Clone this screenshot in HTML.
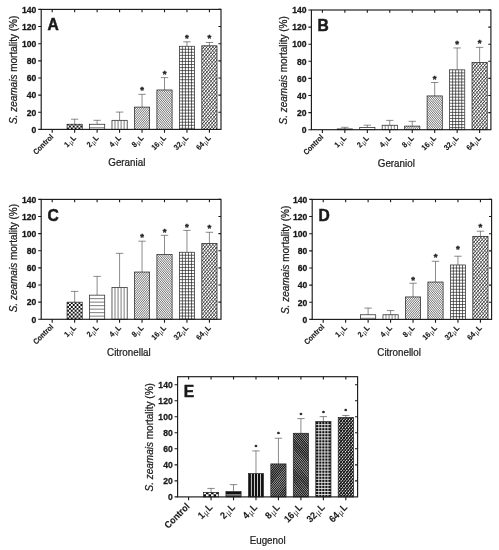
<!DOCTYPE html>
<html><head><meta charset="utf-8"><title>Figure</title>
<style>html,body{margin:0;padding:0;background:#fff}svg{display:block}</style></head>
<body><svg width="499" height="550" viewBox="0 0 499 550">
<rect width="499" height="550" fill="#fff"/>
<g>
<path d="M74.66 124.26V119.20M70.96 119.20H78.36" stroke="#444" stroke-width="0.62" fill="none"/>
<svg x="67.06" y="124.26" width="15.20" height="5.14" overflow="hidden"><rect width="15.20" height="5.14" fill="#fff"/><path d="M0.00 3.24h1.90v1.90h-1.90zM3.80 3.24h1.90v1.90h-1.90zM7.60 3.24h1.90v1.90h-1.90zM11.40 3.24h1.90v1.90h-1.90zM1.90 1.34h1.90v1.90h-1.90zM5.70 1.34h1.90v1.90h-1.90zM9.50 1.34h1.90v1.90h-1.90zM13.30 1.34h1.90v1.90h-1.90zM0.00 -0.56h1.90v1.90h-1.90zM3.80 -0.56h1.90v1.90h-1.90zM7.60 -0.56h1.90v1.90h-1.90zM11.40 -0.56h1.90v1.90h-1.90zM1.90 -2.46h1.90v1.90h-1.90zM5.70 -2.46h1.90v1.90h-1.90zM9.50 -2.46h1.90v1.90h-1.90zM13.30 -2.46h1.90v1.90h-1.90z" fill="#111"/></svg>
<rect x="67.06" y="124.26" width="15.2" height="5.14" fill="none" stroke="#222" stroke-width="0.72"/>
<path d="M97.12 124.26V120.31M93.42 120.31H100.82" stroke="#444" stroke-width="0.62" fill="none"/>
<svg x="89.52" y="124.26" width="15.20" height="5.14" overflow="hidden"><rect width="15.20" height="5.14" fill="#fff"/><path d="M0 3.50H15.20" stroke="#444" stroke-width="0.7" fill="none"/></svg>
<rect x="89.52" y="124.26" width="15.2" height="5.14" fill="none" stroke="#222" stroke-width="0.72"/>
<path d="M119.58 120.31V112.09M115.88 112.09H123.28" stroke="#444" stroke-width="0.62" fill="none"/>
<svg x="111.98" y="120.31" width="15.20" height="9.09" overflow="hidden"><rect width="15.20" height="9.09" fill="#fff"/><path d="M3.04 0V9.09M6.08 0V9.09M9.12 0V9.09M12.16 0V9.09" stroke="#444" stroke-width="0.7" fill="none"/></svg>
<rect x="111.98" y="120.31" width="15.2" height="9.09" fill="none" stroke="#222" stroke-width="0.72"/>
<path d="M142.04 107.11V94.34M138.34 94.34H145.74" stroke="#444" stroke-width="0.62" fill="none"/>
<svg x="134.44" y="107.11" width="15.20" height="22.29" overflow="hidden"><rect width="15.20" height="22.29" fill="#fff"/><path d="M-27.91 30.74L25.43 -32.82M-26.67 31.78L26.67 -31.78M-25.43 32.82L27.91 -30.74M-24.18 33.86L29.15 -29.70M-22.94 34.90L30.39 -28.66M-21.70 35.95L31.63 -27.61M-20.46 36.99L32.87 -26.57M-19.22 38.03L34.11 -25.53M-17.98 39.07L35.35 -24.49M-16.74 40.11L36.59 -23.45M-15.50 41.15L37.84 -22.41M-14.26 42.19L39.08 -21.37M-13.02 43.23L40.32 -20.33M-11.77 44.28L41.56 -19.28M-10.53 45.32L42.80 -18.24M-9.29 46.36L44.04 -17.20M-8.05 47.40L45.28 -16.16M-6.81 48.44L46.52 -15.12M-5.57 49.48L47.76 -14.08" stroke="#111" stroke-width="0.6" fill="none"/></svg>
<rect x="134.44" y="107.11" width="15.2" height="22.29" fill="none" stroke="#222" stroke-width="0.72"/>
<text x="142.04" y="92.76" font-size="9.6" font-weight="bold" text-anchor="middle" font-family="Liberation Sans, Arial, sans-serif" fill="#222" stroke="#222" stroke-width="0.4">*</text>
<path d="M164.50 89.97V77.63M160.80 77.63H168.20" stroke="#444" stroke-width="0.62" fill="none"/>
<svg x="156.90" y="89.97" width="15.20" height="39.43" overflow="hidden"><rect width="15.20" height="39.43" fill="#fff"/><path d="M-26.52 -54.28L48.85 35.54M-27.76 -53.24L47.61 36.58M-29.00 -52.20L46.37 37.62M-30.24 -51.16L45.13 38.66M-31.48 -50.12L43.89 39.71M-32.72 -49.08L42.65 40.75M-33.96 -48.04L41.41 41.79M-35.20 -46.99L40.17 42.83M-36.44 -45.95L38.93 43.87M-37.69 -44.91L37.69 44.91M-38.93 -43.87L36.44 45.95M-40.17 -42.83L35.20 46.99M-41.41 -41.79L33.96 48.04M-42.65 -40.75L32.72 49.08M-43.89 -39.71L31.48 50.12M-45.13 -38.66L30.24 51.16M-46.37 -37.62L29.00 52.20M-47.61 -36.58L27.76 53.24M-48.85 -35.54L26.52 54.28M-50.10 -34.50L25.28 55.33M-51.34 -33.46L24.03 56.37M-52.58 -32.42L22.79 57.41M-53.82 -31.37L21.55 58.45M-55.06 -30.33L20.31 59.49M-56.30 -29.29L19.07 60.53M-57.54 -28.25L17.83 61.57" stroke="#111" stroke-width="0.6" fill="none"/></svg>
<rect x="156.90" y="89.97" width="15.2" height="39.43" fill="none" stroke="#222" stroke-width="0.72"/>
<text x="164.50" y="76.54" font-size="9.6" font-weight="bold" text-anchor="middle" font-family="Liberation Sans, Arial, sans-serif" fill="#222" stroke="#222" stroke-width="0.4">*</text>
<path d="M186.96 46.26V41.80M183.26 41.80H190.66" stroke="#444" stroke-width="0.62" fill="none"/>
<svg x="179.36" y="46.26" width="15.20" height="83.14" overflow="hidden"><rect width="15.20" height="83.14" fill="#fff"/><path d="M3.04 0V83.14M6.08 0V83.14M9.12 0V83.14M12.16 0V83.14M0 3.04H15.20M0 6.08H15.20M0 9.12H15.20M0 12.16H15.20M0 15.20H15.20M0 18.24H15.20M0 21.28H15.20M0 24.32H15.20M0 27.36H15.20M0 30.40H15.20M0 33.44H15.20M0 36.48H15.20M0 39.52H15.20M0 42.56H15.20M0 45.60H15.20M0 48.64H15.20M0 51.68H15.20M0 54.72H15.20M0 57.76H15.20M0 60.80H15.20M0 63.84H15.20M0 66.88H15.20M0 69.92H15.20M0 72.96H15.20M0 76.00H15.20M0 79.04H15.20M0 82.08H15.20" stroke="#222" stroke-width="0.68" fill="none"/></svg>
<rect x="179.36" y="46.26" width="15.2" height="83.14" fill="none" stroke="#222" stroke-width="0.72"/>
<text x="186.96" y="40.72" font-size="9.6" font-weight="bold" text-anchor="middle" font-family="Liberation Sans, Arial, sans-serif" fill="#222" stroke="#222" stroke-width="0.4">*</text>
<path d="M209.42 45.83V42.49M205.72 42.49H213.12" stroke="#444" stroke-width="0.62" fill="none"/>
<svg x="201.82" y="45.83" width="15.20" height="83.57" overflow="hidden"><rect width="15.20" height="83.57" fill="#fff"/><path d="M-67.82 77.25L64.30 -80.21M-66.06 78.73L66.06 -78.73M-64.30 80.21L67.82 -77.25M-62.54 81.68L69.58 -75.77M-60.77 83.16L71.35 -74.29M-59.01 84.64L73.11 -72.81M-57.25 86.12L74.87 -71.34M-55.49 87.60L76.63 -69.86M-53.73 89.08L78.39 -68.38M-51.96 90.55L80.16 -66.90M-50.20 92.03L81.92 -65.42M-48.44 93.51L83.68 -63.94M-46.68 94.99L85.44 -62.46M-44.92 96.47L87.20 -60.99M-43.16 97.95L88.96 -59.51M-41.39 99.43L90.73 -58.03M-39.63 100.90L92.49 -56.55M-37.87 102.38L94.25 -55.07M-36.11 103.86L96.01 -53.59M-34.35 105.34L97.77 -52.12M-32.58 106.82L99.54 -50.64M-30.82 108.30L101.30 -49.16M-29.06 109.77L103.06 -47.68M-27.30 111.25L104.82 -46.20M-25.54 112.73L106.58 -44.72M-23.77 114.21L108.35 -43.25M-22.01 115.69L110.11 -41.77M-20.25 117.17L111.87 -40.29M-18.49 118.64L113.63 -38.81M-16.73 120.12L115.39 -37.33M-14.97 121.60L117.16 -35.85" stroke="#222" stroke-width="0.85" fill="none"/><path d="M-54.11 -88.75L78.01 68.70M-56.10 -87.08L76.02 70.37M-58.09 -85.41L74.03 72.04M-60.09 -83.74L72.04 73.71M-62.08 -82.07L70.04 75.38M-64.07 -80.40L68.05 77.06M-66.06 -78.73L66.06 78.73M-68.05 -77.06L64.07 80.40M-70.04 -75.38L62.08 82.07M-72.04 -73.71L60.09 83.74M-74.03 -72.04L58.09 85.41M-76.02 -70.37L56.10 87.08M-78.01 -68.70L54.11 88.75M-80.00 -67.03L52.12 90.43M-81.99 -65.36L50.13 92.10M-83.99 -63.69L48.13 93.77M-85.98 -62.02L46.14 95.44M-87.97 -60.34L44.15 97.11M-89.96 -58.67L42.16 98.78M-91.95 -57.00L40.17 100.45M-93.94 -55.33L38.18 102.12M-95.94 -53.66L36.18 103.80M-97.93 -51.99L34.19 105.47M-99.92 -50.32L32.20 107.14M-101.91 -48.65L30.21 108.81M-103.90 -46.97L28.22 110.48M-105.89 -45.30L26.23 112.15M-107.89 -43.63L24.23 113.82" stroke="#222" stroke-width="0.6" fill="none"/></svg>
<rect x="201.82" y="45.83" width="15.2" height="83.57" fill="none" stroke="#222" stroke-width="0.72"/>
<text x="209.42" y="41.40" font-size="9.6" font-weight="bold" text-anchor="middle" font-family="Liberation Sans, Arial, sans-serif" fill="#222" stroke="#222" stroke-width="0.4">*</text>
<rect x="41.2" y="9.4" width="179.80" height="120.00" fill="none" stroke="#1a1a1a" stroke-width="1.15"/>
<path d="M52.20 9.4v2.8M52.20 129.4v3.4M74.66 9.4v2.8M74.66 129.4v3.4M97.12 9.4v2.8M97.12 129.4v3.4M119.58 9.4v2.8M119.58 129.4v3.4M142.04 9.4v2.8M142.04 129.4v3.4M164.50 9.4v2.8M164.50 129.4v3.4M186.96 9.4v2.8M186.96 129.4v3.4M209.42 9.4v2.8M209.42 129.4v3.4M38.2 129.40h3M38.2 112.26h3M221 112.26h-2.6M38.2 95.11h3M221 95.11h-2.6M38.2 77.97h3M221 77.97h-2.6M38.2 60.83h3M221 60.83h-2.6M38.2 43.69h3M221 43.69h-2.6M38.2 26.54h3M221 26.54h-2.6M38.2 9.40h3M221 9.40h-2.6" stroke="#1a1a1a" stroke-width="1.1" fill="none"/>
<text transform="translate(36.30 132.65) scale(0.905 1)" font-size="9.5" font-weight="bold" text-anchor="end" font-family="Liberation Sans, Arial, sans-serif" fill="#1a1a1a" stroke="#1a1a1a" stroke-width="0.3">0</text>
<text transform="translate(36.30 115.51) scale(0.905 1)" font-size="9.5" font-weight="bold" text-anchor="end" font-family="Liberation Sans, Arial, sans-serif" fill="#1a1a1a" stroke="#1a1a1a" stroke-width="0.3">20</text>
<text transform="translate(36.30 98.36) scale(0.905 1)" font-size="9.5" font-weight="bold" text-anchor="end" font-family="Liberation Sans, Arial, sans-serif" fill="#1a1a1a" stroke="#1a1a1a" stroke-width="0.3">40</text>
<text transform="translate(36.30 81.22) scale(0.905 1)" font-size="9.5" font-weight="bold" text-anchor="end" font-family="Liberation Sans, Arial, sans-serif" fill="#1a1a1a" stroke="#1a1a1a" stroke-width="0.3">60</text>
<text transform="translate(36.30 64.08) scale(0.905 1)" font-size="9.5" font-weight="bold" text-anchor="end" font-family="Liberation Sans, Arial, sans-serif" fill="#1a1a1a" stroke="#1a1a1a" stroke-width="0.3">80</text>
<text transform="translate(36.30 46.94) scale(0.905 1)" font-size="9.5" font-weight="bold" text-anchor="end" font-family="Liberation Sans, Arial, sans-serif" fill="#1a1a1a" stroke="#1a1a1a" stroke-width="0.3">100</text>
<text transform="translate(36.30 29.79) scale(0.905 1)" font-size="9.5" font-weight="bold" text-anchor="end" font-family="Liberation Sans, Arial, sans-serif" fill="#1a1a1a" stroke="#1a1a1a" stroke-width="0.3">120</text>
<text transform="translate(36.30 12.65) scale(0.905 1)" font-size="9.5" font-weight="bold" text-anchor="end" font-family="Liberation Sans, Arial, sans-serif" fill="#1a1a1a" stroke="#1a1a1a" stroke-width="0.3">140</text>
<text transform="translate(53.80 137.40) rotate(-45) scale(0.92 1)" font-size="7.6" font-weight="bold" text-anchor="end" font-family="Liberation Sans, Arial, sans-serif" fill="#1a1a1a" stroke="#1a1a1a" stroke-width="0.12">Control</text>
<text transform="translate(76.66 138.40) rotate(-45) scale(0.92 1)" font-size="7.8" font-weight="bold" text-anchor="end" font-family="Liberation Sans, Arial, sans-serif" fill="#1a1a1a" stroke="#1a1a1a" stroke-width="0.12">1<tspan font-size="6.60" font-weight="normal" stroke="none" dx="0.7" dy="1.2">µ</tspan><tspan dx="0.7" dy="-1.2">L</tspan></text>
<text transform="translate(99.12 138.40) rotate(-45) scale(0.92 1)" font-size="7.8" font-weight="bold" text-anchor="end" font-family="Liberation Sans, Arial, sans-serif" fill="#1a1a1a" stroke="#1a1a1a" stroke-width="0.12">2<tspan font-size="6.60" font-weight="normal" stroke="none" dx="0.7" dy="1.2">µ</tspan><tspan dx="0.7" dy="-1.2">L</tspan></text>
<text transform="translate(121.58 138.40) rotate(-45) scale(0.92 1)" font-size="7.8" font-weight="bold" text-anchor="end" font-family="Liberation Sans, Arial, sans-serif" fill="#1a1a1a" stroke="#1a1a1a" stroke-width="0.12">4<tspan font-size="6.60" font-weight="normal" stroke="none" dx="0.7" dy="1.2">µ</tspan><tspan dx="0.7" dy="-1.2">L</tspan></text>
<text transform="translate(144.04 138.40) rotate(-45) scale(0.92 1)" font-size="7.8" font-weight="bold" text-anchor="end" font-family="Liberation Sans, Arial, sans-serif" fill="#1a1a1a" stroke="#1a1a1a" stroke-width="0.12">8<tspan font-size="6.60" font-weight="normal" stroke="none" dx="0.7" dy="1.2">µ</tspan><tspan dx="0.7" dy="-1.2">L</tspan></text>
<text transform="translate(166.50 138.40) rotate(-45) scale(0.92 1)" font-size="7.8" font-weight="bold" text-anchor="end" font-family="Liberation Sans, Arial, sans-serif" fill="#1a1a1a" stroke="#1a1a1a" stroke-width="0.12">16<tspan font-size="6.60" font-weight="normal" stroke="none" dx="0.7" dy="1.2">µ</tspan><tspan dx="0.7" dy="-1.2">L</tspan></text>
<text transform="translate(188.96 138.40) rotate(-45) scale(0.92 1)" font-size="7.8" font-weight="bold" text-anchor="end" font-family="Liberation Sans, Arial, sans-serif" fill="#1a1a1a" stroke="#1a1a1a" stroke-width="0.12">32<tspan font-size="6.60" font-weight="normal" stroke="none" dx="0.7" dy="1.2">µ</tspan><tspan dx="0.7" dy="-1.2">L</tspan></text>
<text transform="translate(211.42 138.40) rotate(-45) scale(0.92 1)" font-size="7.8" font-weight="bold" text-anchor="end" font-family="Liberation Sans, Arial, sans-serif" fill="#1a1a1a" stroke="#1a1a1a" stroke-width="0.12">64<tspan font-size="6.60" font-weight="normal" stroke="none" dx="0.7" dy="1.2">µ</tspan><tspan dx="0.7" dy="-1.2">L</tspan></text>
<text transform="translate(126.80 166.30) scale(0.9 1)" font-size="10.9" text-anchor="middle" font-family="Liberation Sans, Arial, sans-serif" fill="#222" stroke="#222" stroke-width="0.25">Geranial</text>
<text transform="translate(17.00 69.90) rotate(-90)" font-size="10" text-anchor="middle" font-family="Liberation Sans, Arial, sans-serif" fill="#222" stroke="#222" stroke-width="0.25"><tspan font-style="italic">S. zeamais</tspan> mortality (%)</text>
<text x="47.40" y="29.90" font-size="15.6" font-weight="bold" font-family="Liberation Sans, Arial, sans-serif" fill="#1a1a1a" stroke="#1a1a1a" stroke-width="0.5">A</text>
</g>
<g>
<path d="M344.86 128.93V127.31M341.16 127.31H348.56" stroke="#444" stroke-width="0.62" fill="none"/>
<svg x="337.26" y="128.93" width="15.20" height="0.77" overflow="hidden"><rect width="15.20" height="0.77" fill="#fff"/><path d="M0.00 -1.13h1.90v1.90h-1.90zM3.80 -1.13h1.90v1.90h-1.90zM7.60 -1.13h1.90v1.90h-1.90zM11.40 -1.13h1.90v1.90h-1.90zM1.90 -3.03h1.90v1.90h-1.90zM5.70 -3.03h1.90v1.90h-1.90zM9.50 -3.03h1.90v1.90h-1.90zM13.30 -3.03h1.90v1.90h-1.90z" fill="#111"/></svg>
<rect x="337.26" y="128.93" width="15.2" height="0.77" fill="none" stroke="#222" stroke-width="0.72"/>
<path d="M367.32 127.48V125.17M363.62 125.17H371.02" stroke="#444" stroke-width="0.62" fill="none"/>
<svg x="359.72" y="127.48" width="15.20" height="2.22" overflow="hidden"><rect width="15.20" height="2.22" fill="#fff"/><path d="" stroke="#444" stroke-width="0.7" fill="none"/></svg>
<rect x="359.72" y="127.48" width="15.2" height="2.22" fill="none" stroke="#222" stroke-width="0.72"/>
<path d="M389.78 125.25V120.38M386.08 120.38H393.48" stroke="#444" stroke-width="0.62" fill="none"/>
<svg x="382.18" y="125.25" width="15.20" height="4.45" overflow="hidden"><rect width="15.20" height="4.45" fill="#fff"/><path d="M3.04 0V4.45M6.08 0V4.45M9.12 0V4.45M12.16 0V4.45" stroke="#444" stroke-width="0.7" fill="none"/></svg>
<rect x="382.18" y="125.25" width="15.2" height="4.45" fill="none" stroke="#222" stroke-width="0.72"/>
<path d="M412.24 126.11V121.32M408.54 121.32H415.94" stroke="#444" stroke-width="0.62" fill="none"/>
<svg x="404.64" y="126.11" width="15.20" height="3.59" overflow="hidden"><rect width="15.20" height="3.59" fill="#fff"/><path d="M-15.89 16.42L13.41 -18.50M-14.65 17.46L14.65 -17.46M-13.41 18.50L15.89 -16.42M-12.17 19.54L17.13 -15.38M-10.93 20.58L18.37 -14.33M-9.69 21.62L19.61 -13.29M-8.44 22.67L20.85 -12.25M-7.20 23.71L22.10 -11.21M-5.96 24.75L23.34 -10.17M-4.72 25.79L24.58 -9.13M-3.48 26.83L25.82 -8.09" stroke="#111" stroke-width="0.6" fill="none"/></svg>
<rect x="404.64" y="126.11" width="15.2" height="3.59" fill="none" stroke="#222" stroke-width="0.72"/>
<path d="M434.70 95.93V82.50M431.00 82.50H438.40" stroke="#444" stroke-width="0.62" fill="none"/>
<svg x="427.10" y="95.93" width="15.20" height="33.77" overflow="hidden"><rect width="15.20" height="33.77" fill="#fff"/><path d="M-22.88 -49.95L45.22 31.21M-24.12 -48.91L43.98 32.25M-25.36 -47.87L42.74 33.29M-26.60 -46.83L41.50 34.33M-27.85 -45.79L40.26 35.37M-29.09 -44.74L39.01 36.41M-30.33 -43.70L37.77 37.46M-31.57 -42.66L36.53 38.50M-32.81 -41.62L35.29 39.54M-34.05 -40.58L34.05 40.58M-35.29 -39.54L32.81 41.62M-36.53 -38.50L31.57 42.66M-37.77 -37.46L30.33 43.70M-39.01 -36.41L29.09 44.74M-40.26 -35.37L27.85 45.79M-41.50 -34.33L26.60 46.83M-42.74 -33.29L25.36 47.87M-43.98 -32.25L24.12 48.91M-45.22 -31.21L22.88 49.95M-46.46 -30.17L21.64 50.99M-47.70 -29.12L20.40 52.03M-48.94 -28.08L19.16 53.08M-50.18 -27.04L17.92 54.12M-51.42 -26.00L16.68 55.16" stroke="#111" stroke-width="0.6" fill="none"/></svg>
<rect x="427.10" y="95.93" width="15.2" height="33.77" fill="none" stroke="#222" stroke-width="0.72"/>
<text x="434.70" y="82.12" font-size="9.6" font-weight="bold" text-anchor="middle" font-family="Liberation Sans, Arial, sans-serif" fill="#222" stroke="#222" stroke-width="0.4">*</text>
<path d="M457.16 69.85V47.96M453.46 47.96H460.86" stroke="#444" stroke-width="0.62" fill="none"/>
<svg x="449.56" y="69.85" width="15.20" height="59.85" overflow="hidden"><rect width="15.20" height="59.85" fill="#fff"/><path d="M3.04 0V59.85M6.08 0V59.85M9.12 0V59.85M12.16 0V59.85M0 3.04H15.20M0 6.08H15.20M0 9.12H15.20M0 12.16H15.20M0 15.20H15.20M0 18.24H15.20M0 21.28H15.20M0 24.32H15.20M0 27.36H15.20M0 30.40H15.20M0 33.44H15.20M0 36.48H15.20M0 39.52H15.20M0 42.56H15.20M0 45.60H15.20M0 48.64H15.20M0 51.68H15.20M0 54.72H15.20M0 57.76H15.20M0 60.80H15.20" stroke="#222" stroke-width="0.68" fill="none"/></svg>
<rect x="449.56" y="69.85" width="15.2" height="59.85" fill="none" stroke="#222" stroke-width="0.72"/>
<text x="457.16" y="46.78" font-size="9.6" font-weight="bold" text-anchor="middle" font-family="Liberation Sans, Arial, sans-serif" fill="#222" stroke="#222" stroke-width="0.4">*</text>
<path d="M479.62 62.50V47.36M475.92 47.36H483.32" stroke="#444" stroke-width="0.62" fill="none"/>
<svg x="472.02" y="62.50" width="15.20" height="67.20" overflow="hidden"><rect width="15.20" height="67.20" fill="#fff"/><path d="M-57.30 64.71L53.78 -67.67M-55.54 66.19L55.54 -66.19M-53.78 67.67L57.30 -64.71M-52.01 69.15L59.06 -63.23M-50.25 70.62L60.82 -61.75M-48.49 72.10L62.59 -60.27M-46.73 73.58L64.35 -58.80M-44.97 75.06L66.11 -57.32M-43.21 76.54L67.87 -55.84M-41.44 78.02L69.63 -54.36M-39.68 79.49L71.40 -52.88M-37.92 80.97L73.16 -51.40M-36.16 82.45L74.92 -49.93M-34.40 83.93L76.68 -48.45M-32.63 85.41L78.44 -46.97M-30.87 86.89L80.21 -45.49M-29.11 88.36L81.97 -44.01M-27.35 89.84L83.73 -42.53M-25.59 91.32L85.49 -41.06M-23.82 92.80L87.25 -39.58M-22.06 94.28L89.01 -38.10M-20.30 95.76L90.78 -36.62M-18.54 97.24L92.54 -35.14M-16.78 98.71L94.30 -33.66M-15.02 100.19L96.06 -32.19M-13.25 101.67L97.82 -30.71" stroke="#222" stroke-width="0.85" fill="none"/><path d="M-43.59 -76.22L67.49 56.16M-45.58 -74.54L65.50 57.83M-47.57 -72.87L63.51 59.50M-49.56 -71.20L61.51 61.17M-51.56 -69.53L59.52 62.85M-53.55 -67.86L57.53 64.52M-55.54 -66.19L55.54 66.19M-57.53 -64.52L53.55 67.86M-59.52 -62.85L51.56 69.53M-61.51 -61.17L49.56 71.20M-63.51 -59.50L47.57 72.87M-65.50 -57.83L45.58 74.54M-67.49 -56.16L43.59 76.22M-69.48 -54.49L41.60 77.89M-71.47 -52.82L39.61 79.56M-73.46 -51.15L37.61 81.23M-75.46 -49.48L35.62 82.90M-77.45 -47.80L33.63 84.57M-79.44 -46.13L31.64 86.24M-81.43 -44.46L29.65 87.91M-83.42 -42.79L27.65 89.59M-85.41 -41.12L25.66 91.26M-87.41 -39.45L23.67 92.93M-89.40 -37.78L21.68 94.60" stroke="#222" stroke-width="0.6" fill="none"/></svg>
<rect x="472.02" y="62.50" width="15.2" height="67.20" fill="none" stroke="#222" stroke-width="0.72"/>
<text x="479.62" y="46.38" font-size="9.6" font-weight="bold" text-anchor="middle" font-family="Liberation Sans, Arial, sans-serif" fill="#222" stroke="#222" stroke-width="0.4">*</text>
<rect x="311.4" y="10.0" width="179.50" height="119.70" fill="none" stroke="#1a1a1a" stroke-width="1.15"/>
<path d="M322.40 10.0v2.8M322.40 129.7v3.4M344.86 10.0v2.8M344.86 129.7v3.4M367.32 10.0v2.8M367.32 129.7v3.4M389.78 10.0v2.8M389.78 129.7v3.4M412.24 10.0v2.8M412.24 129.7v3.4M434.70 10.0v2.8M434.70 129.7v3.4M457.16 10.0v2.8M457.16 129.7v3.4M479.62 10.0v2.8M479.62 129.7v3.4M308.4 129.70h3M308.4 112.60h3M490.9 112.60h-2.6M308.4 95.50h3M490.9 95.50h-2.6M308.4 78.40h3M490.9 78.40h-2.6M308.4 61.30h3M490.9 61.30h-2.6M308.4 44.20h3M490.9 44.20h-2.6M308.4 27.10h3M490.9 27.10h-2.6M308.4 10.00h3M490.9 10.00h-2.6" stroke="#1a1a1a" stroke-width="1.1" fill="none"/>
<text transform="translate(306.50 132.95) scale(0.905 1)" font-size="9.5" font-weight="bold" text-anchor="end" font-family="Liberation Sans, Arial, sans-serif" fill="#1a1a1a" stroke="#1a1a1a" stroke-width="0.3">0</text>
<text transform="translate(306.50 115.85) scale(0.905 1)" font-size="9.5" font-weight="bold" text-anchor="end" font-family="Liberation Sans, Arial, sans-serif" fill="#1a1a1a" stroke="#1a1a1a" stroke-width="0.3">20</text>
<text transform="translate(306.50 98.75) scale(0.905 1)" font-size="9.5" font-weight="bold" text-anchor="end" font-family="Liberation Sans, Arial, sans-serif" fill="#1a1a1a" stroke="#1a1a1a" stroke-width="0.3">40</text>
<text transform="translate(306.50 81.65) scale(0.905 1)" font-size="9.5" font-weight="bold" text-anchor="end" font-family="Liberation Sans, Arial, sans-serif" fill="#1a1a1a" stroke="#1a1a1a" stroke-width="0.3">60</text>
<text transform="translate(306.50 64.55) scale(0.905 1)" font-size="9.5" font-weight="bold" text-anchor="end" font-family="Liberation Sans, Arial, sans-serif" fill="#1a1a1a" stroke="#1a1a1a" stroke-width="0.3">80</text>
<text transform="translate(306.50 47.45) scale(0.905 1)" font-size="9.5" font-weight="bold" text-anchor="end" font-family="Liberation Sans, Arial, sans-serif" fill="#1a1a1a" stroke="#1a1a1a" stroke-width="0.3">100</text>
<text transform="translate(306.50 30.35) scale(0.905 1)" font-size="9.5" font-weight="bold" text-anchor="end" font-family="Liberation Sans, Arial, sans-serif" fill="#1a1a1a" stroke="#1a1a1a" stroke-width="0.3">120</text>
<text transform="translate(306.50 13.25) scale(0.905 1)" font-size="9.5" font-weight="bold" text-anchor="end" font-family="Liberation Sans, Arial, sans-serif" fill="#1a1a1a" stroke="#1a1a1a" stroke-width="0.3">140</text>
<text transform="translate(324.00 137.70) rotate(-45) scale(0.92 1)" font-size="7.6" font-weight="bold" text-anchor="end" font-family="Liberation Sans, Arial, sans-serif" fill="#1a1a1a" stroke="#1a1a1a" stroke-width="0.12">Control</text>
<text transform="translate(346.86 138.70) rotate(-45) scale(0.92 1)" font-size="7.8" font-weight="bold" text-anchor="end" font-family="Liberation Sans, Arial, sans-serif" fill="#1a1a1a" stroke="#1a1a1a" stroke-width="0.12">1<tspan font-size="6.60" font-weight="normal" stroke="none" dx="0.7" dy="1.2">µ</tspan><tspan dx="0.7" dy="-1.2">L</tspan></text>
<text transform="translate(369.32 138.70) rotate(-45) scale(0.92 1)" font-size="7.8" font-weight="bold" text-anchor="end" font-family="Liberation Sans, Arial, sans-serif" fill="#1a1a1a" stroke="#1a1a1a" stroke-width="0.12">2<tspan font-size="6.60" font-weight="normal" stroke="none" dx="0.7" dy="1.2">µ</tspan><tspan dx="0.7" dy="-1.2">L</tspan></text>
<text transform="translate(391.78 138.70) rotate(-45) scale(0.92 1)" font-size="7.8" font-weight="bold" text-anchor="end" font-family="Liberation Sans, Arial, sans-serif" fill="#1a1a1a" stroke="#1a1a1a" stroke-width="0.12">4<tspan font-size="6.60" font-weight="normal" stroke="none" dx="0.7" dy="1.2">µ</tspan><tspan dx="0.7" dy="-1.2">L</tspan></text>
<text transform="translate(414.24 138.70) rotate(-45) scale(0.92 1)" font-size="7.8" font-weight="bold" text-anchor="end" font-family="Liberation Sans, Arial, sans-serif" fill="#1a1a1a" stroke="#1a1a1a" stroke-width="0.12">8<tspan font-size="6.60" font-weight="normal" stroke="none" dx="0.7" dy="1.2">µ</tspan><tspan dx="0.7" dy="-1.2">L</tspan></text>
<text transform="translate(436.70 138.70) rotate(-45) scale(0.92 1)" font-size="7.8" font-weight="bold" text-anchor="end" font-family="Liberation Sans, Arial, sans-serif" fill="#1a1a1a" stroke="#1a1a1a" stroke-width="0.12">16<tspan font-size="6.60" font-weight="normal" stroke="none" dx="0.7" dy="1.2">µ</tspan><tspan dx="0.7" dy="-1.2">L</tspan></text>
<text transform="translate(459.16 138.70) rotate(-45) scale(0.92 1)" font-size="7.8" font-weight="bold" text-anchor="end" font-family="Liberation Sans, Arial, sans-serif" fill="#1a1a1a" stroke="#1a1a1a" stroke-width="0.12">32<tspan font-size="6.60" font-weight="normal" stroke="none" dx="0.7" dy="1.2">µ</tspan><tspan dx="0.7" dy="-1.2">L</tspan></text>
<text transform="translate(481.62 138.70) rotate(-45) scale(0.92 1)" font-size="7.8" font-weight="bold" text-anchor="end" font-family="Liberation Sans, Arial, sans-serif" fill="#1a1a1a" stroke="#1a1a1a" stroke-width="0.12">64<tspan font-size="6.60" font-weight="normal" stroke="none" dx="0.7" dy="1.2">µ</tspan><tspan dx="0.7" dy="-1.2">L</tspan></text>
<text transform="translate(396.30 166.70) scale(0.9 1)" font-size="10.9" text-anchor="middle" font-family="Liberation Sans, Arial, sans-serif" fill="#222" stroke="#222" stroke-width="0.25">Geraniol</text>
<text transform="translate(287.20 70.35) rotate(-90)" font-size="10" text-anchor="middle" font-family="Liberation Sans, Arial, sans-serif" fill="#222" stroke="#222" stroke-width="0.25"><tspan font-style="italic">S. zeamais</tspan> mortality (%)</text>
<text x="317.60" y="30.50" font-size="15.6" font-weight="bold" font-family="Liberation Sans, Arial, sans-serif" fill="#1a1a1a" stroke="#1a1a1a" stroke-width="0.5">B</text>
</g>
<g>
<path d="M74.66 302.17V291.38M70.96 291.38H78.36" stroke="#444" stroke-width="0.62" fill="none"/>
<svg x="67.06" y="302.17" width="15.20" height="17.13" overflow="hidden"><rect width="15.20" height="17.13" fill="#fff"/><path d="M0.00 15.23h1.90v1.90h-1.90zM3.80 15.23h1.90v1.90h-1.90zM7.60 15.23h1.90v1.90h-1.90zM11.40 15.23h1.90v1.90h-1.90zM1.90 13.33h1.90v1.90h-1.90zM5.70 13.33h1.90v1.90h-1.90zM9.50 13.33h1.90v1.90h-1.90zM13.30 13.33h1.90v1.90h-1.90zM0.00 11.43h1.90v1.90h-1.90zM3.80 11.43h1.90v1.90h-1.90zM7.60 11.43h1.90v1.90h-1.90zM11.40 11.43h1.90v1.90h-1.90zM1.90 9.53h1.90v1.90h-1.90zM5.70 9.53h1.90v1.90h-1.90zM9.50 9.53h1.90v1.90h-1.90zM13.30 9.53h1.90v1.90h-1.90zM0.00 7.63h1.90v1.90h-1.90zM3.80 7.63h1.90v1.90h-1.90zM7.60 7.63h1.90v1.90h-1.90zM11.40 7.63h1.90v1.90h-1.90zM1.90 5.73h1.90v1.90h-1.90zM5.70 5.73h1.90v1.90h-1.90zM9.50 5.73h1.90v1.90h-1.90zM13.30 5.73h1.90v1.90h-1.90zM0.00 3.83h1.90v1.90h-1.90zM3.80 3.83h1.90v1.90h-1.90zM7.60 3.83h1.90v1.90h-1.90zM11.40 3.83h1.90v1.90h-1.90zM1.90 1.93h1.90v1.90h-1.90zM5.70 1.93h1.90v1.90h-1.90zM9.50 1.93h1.90v1.90h-1.90zM13.30 1.93h1.90v1.90h-1.90zM0.00 0.03h1.90v1.90h-1.90zM3.80 0.03h1.90v1.90h-1.90zM7.60 0.03h1.90v1.90h-1.90zM11.40 0.03h1.90v1.90h-1.90zM1.90 -1.87h1.90v1.90h-1.90zM5.70 -1.87h1.90v1.90h-1.90zM9.50 -1.87h1.90v1.90h-1.90zM13.30 -1.87h1.90v1.90h-1.90zM0.00 -3.77h1.90v1.90h-1.90zM3.80 -3.77h1.90v1.90h-1.90zM7.60 -3.77h1.90v1.90h-1.90zM11.40 -3.77h1.90v1.90h-1.90z" fill="#111"/></svg>
<rect x="67.06" y="302.17" width="15.2" height="17.13" fill="none" stroke="#222" stroke-width="0.72"/>
<path d="M97.12 295.15V276.39M93.42 276.39H100.82" stroke="#444" stroke-width="0.62" fill="none"/>
<svg x="89.52" y="295.15" width="15.20" height="24.15" overflow="hidden"><rect width="15.20" height="24.15" fill="#fff"/><path d="M0 3.50H15.20M0 7.00H15.20M0 10.50H15.20M0 14.00H15.20M0 17.50H15.20M0 21.00H15.20M0 24.50H15.20" stroke="#444" stroke-width="0.7" fill="none"/></svg>
<rect x="89.52" y="295.15" width="15.2" height="24.15" fill="none" stroke="#222" stroke-width="0.72"/>
<path d="M119.58 287.36V253.36M115.88 253.36H123.28" stroke="#444" stroke-width="0.62" fill="none"/>
<svg x="111.98" y="287.36" width="15.20" height="31.94" overflow="hidden"><rect width="15.20" height="31.94" fill="#fff"/><path d="M3.04 0V31.94M6.08 0V31.94M9.12 0V31.94M12.16 0V31.94" stroke="#444" stroke-width="0.7" fill="none"/></svg>
<rect x="111.98" y="287.36" width="15.2" height="31.94" fill="none" stroke="#222" stroke-width="0.72"/>
<path d="M142.04 272.03V241.19M138.34 241.19H145.74" stroke="#444" stroke-width="0.62" fill="none"/>
<svg x="134.44" y="272.03" width="15.20" height="47.27" overflow="hidden"><rect width="15.20" height="47.27" fill="#fff"/><path d="M-43.97 49.88L41.49 -51.96M-42.73 50.92L42.73 -50.92M-41.49 51.96L43.97 -49.88M-40.25 53.01L45.21 -48.84M-39.01 54.05L46.45 -47.80M-37.77 55.09L47.69 -46.76M-36.52 56.13L48.93 -45.72M-35.28 57.17L50.18 -44.67M-34.04 58.21L51.42 -43.63M-32.80 59.25L52.66 -42.59M-31.56 60.29L53.90 -41.55M-30.32 61.34L55.14 -40.51M-29.08 62.38L56.38 -39.47M-27.84 63.42L57.62 -38.43M-26.60 64.46L58.86 -37.39M-25.36 65.50L60.10 -36.34M-24.11 66.54L61.34 -35.30M-22.87 67.58L62.59 -34.26M-21.63 68.63L63.83 -33.22M-20.39 69.67L65.07 -32.18M-19.15 70.71L66.31 -31.14M-17.91 71.75L67.55 -30.10M-16.67 72.79L68.79 -29.06M-15.43 73.83L70.03 -28.01M-14.19 74.87L71.27 -26.97M-12.95 75.91L72.51 -25.93M-11.70 76.96L73.75 -24.89M-10.46 78.00L75.00 -23.85" stroke="#111" stroke-width="0.6" fill="none"/></svg>
<rect x="134.44" y="272.03" width="15.2" height="47.27" fill="none" stroke="#222" stroke-width="0.72"/>
<text x="142.04" y="239.91" font-size="9.6" font-weight="bold" text-anchor="middle" font-family="Liberation Sans, Arial, sans-serif" fill="#222" stroke="#222" stroke-width="0.4">*</text>
<path d="M164.50 254.55V235.37M160.80 235.37H168.20" stroke="#444" stroke-width="0.62" fill="none"/>
<svg x="156.90" y="254.55" width="15.20" height="64.75" overflow="hidden"><rect width="15.20" height="64.75" fill="#fff"/><path d="M-42.79 -73.68L65.13 54.93M-44.03 -72.64L63.89 55.98M-45.27 -71.60L62.65 57.02M-46.51 -70.55L61.41 58.06M-47.75 -69.51L60.16 59.10M-49.00 -68.47L58.92 60.14M-50.24 -67.43L57.68 61.18M-51.48 -66.39L56.44 62.22M-52.72 -65.35L55.20 63.27M-53.96 -64.31L53.96 64.31M-55.20 -63.27L52.72 65.35M-56.44 -62.22L51.48 66.39M-57.68 -61.18L50.24 67.43M-58.92 -60.14L49.00 68.47M-60.16 -59.10L47.75 69.51M-61.41 -58.06L46.51 70.55M-62.65 -57.02L45.27 71.60M-63.89 -55.98L44.03 72.64M-65.13 -54.93L42.79 73.68M-66.37 -53.89L41.55 74.72M-67.61 -52.85L40.31 75.76M-68.85 -51.81L39.07 76.80M-70.09 -50.77L37.83 77.84M-71.33 -49.73L36.59 78.88M-72.57 -48.69L35.34 79.93M-73.82 -47.65L34.10 80.97M-75.06 -46.60L32.86 82.01M-76.30 -45.56L31.62 83.05M-77.54 -44.52L30.38 84.09M-78.78 -43.48L29.14 85.13M-80.02 -42.44L27.90 86.17M-81.26 -41.40L26.66 87.22M-82.50 -40.36L25.42 88.26M-83.74 -39.31L24.18 89.30M-84.98 -38.27L22.93 90.34M-86.23 -37.23L21.69 91.38" stroke="#111" stroke-width="0.6" fill="none"/></svg>
<rect x="156.90" y="254.55" width="15.2" height="64.75" fill="none" stroke="#222" stroke-width="0.72"/>
<text x="164.50" y="234.59" font-size="9.6" font-weight="bold" text-anchor="middle" font-family="Liberation Sans, Arial, sans-serif" fill="#222" stroke="#222" stroke-width="0.4">*</text>
<path d="M186.96 252.24V230.40M183.26 230.40H190.66" stroke="#444" stroke-width="0.62" fill="none"/>
<svg x="179.36" y="252.24" width="15.20" height="67.06" overflow="hidden"><rect width="15.20" height="67.06" fill="#fff"/><path d="M3.04 0V67.06M6.08 0V67.06M9.12 0V67.06M12.16 0V67.06M0 3.04H15.20M0 6.08H15.20M0 9.12H15.20M0 12.16H15.20M0 15.20H15.20M0 18.24H15.20M0 21.28H15.20M0 24.32H15.20M0 27.36H15.20M0 30.40H15.20M0 33.44H15.20M0 36.48H15.20M0 39.52H15.20M0 42.56H15.20M0 45.60H15.20M0 48.64H15.20M0 51.68H15.20M0 54.72H15.20M0 57.76H15.20M0 60.80H15.20M0 63.84H15.20M0 66.88H15.20" stroke="#222" stroke-width="0.68" fill="none"/></svg>
<rect x="179.36" y="252.24" width="15.2" height="67.06" fill="none" stroke="#222" stroke-width="0.72"/>
<text x="186.96" y="229.52" font-size="9.6" font-weight="bold" text-anchor="middle" font-family="Liberation Sans, Arial, sans-serif" fill="#222" stroke="#222" stroke-width="0.4">*</text>
<path d="M209.42 243.42V232.29M205.72 232.29H213.12" stroke="#444" stroke-width="0.62" fill="none"/>
<svg x="201.82" y="243.42" width="15.20" height="75.88" overflow="hidden"><rect width="15.20" height="75.88" fill="#fff"/><path d="M-62.88 71.36L59.35 -74.31M-61.12 72.84L61.12 -72.84M-59.35 74.31L62.88 -71.36M-57.59 75.79L64.64 -69.88M-55.83 77.27L66.40 -68.40M-54.07 78.75L68.16 -66.92M-52.31 80.23L69.93 -65.44M-50.54 81.71L71.69 -63.96M-48.78 83.18L73.45 -62.49M-47.02 84.66L75.21 -61.01M-45.26 86.14L76.97 -59.53M-43.50 87.62L78.73 -58.05M-41.74 89.10L80.50 -56.57M-39.97 90.58L82.26 -55.09M-38.21 92.05L84.02 -53.62M-36.45 93.53L85.78 -52.14M-34.69 95.01L87.54 -50.66M-32.93 96.49L89.31 -49.18M-31.16 97.97L91.07 -47.70M-29.40 99.45L92.83 -46.22M-27.64 100.92L94.59 -44.75M-25.88 102.40L96.35 -43.27M-24.12 103.88L98.12 -41.79M-22.35 105.36L99.88 -40.31M-20.59 106.84L101.64 -38.83M-18.83 108.32L103.40 -37.35M-17.07 109.80L105.16 -35.87M-15.31 111.27L106.93 -34.40M-13.54 112.75L108.69 -32.92" stroke="#222" stroke-width="0.85" fill="none"/><path d="M-49.17 -82.86L73.07 62.81M-51.16 -81.19L71.07 64.48M-53.15 -79.52L69.08 66.15M-55.14 -77.85L67.09 67.82M-57.13 -76.18L65.10 69.49M-59.12 -74.51L63.11 71.16M-61.12 -72.84L61.12 72.84M-63.11 -71.16L59.12 74.51M-65.10 -69.49L57.13 76.18M-67.09 -67.82L55.14 77.85M-69.08 -66.15L53.15 79.52M-71.07 -64.48L51.16 81.19M-73.07 -62.81L49.17 82.86M-75.06 -61.14L47.17 84.53M-77.05 -59.47L45.18 86.21M-79.04 -57.79L43.19 87.88M-81.03 -56.12L41.20 89.55M-83.02 -54.45L39.21 91.22M-85.02 -52.78L37.22 92.89M-87.01 -51.11L35.22 94.56M-89.00 -49.44L33.23 96.23M-90.99 -47.77L31.24 97.90M-92.98 -46.10L29.25 99.58M-94.98 -44.42L27.26 101.25M-96.97 -42.75L25.27 102.92M-98.96 -41.08L23.27 104.59" stroke="#222" stroke-width="0.6" fill="none"/></svg>
<rect x="201.82" y="243.42" width="15.2" height="75.88" fill="none" stroke="#222" stroke-width="0.72"/>
<text x="209.42" y="231.00" font-size="9.6" font-weight="bold" text-anchor="middle" font-family="Liberation Sans, Arial, sans-serif" fill="#222" stroke="#222" stroke-width="0.4">*</text>
<rect x="41.2" y="199.4" width="179.80" height="119.90" fill="none" stroke="#1a1a1a" stroke-width="1.15"/>
<path d="M52.20 199.4v2.8M52.20 319.3v3.4M74.66 199.4v2.8M74.66 319.3v3.4M97.12 199.4v2.8M97.12 319.3v3.4M119.58 199.4v2.8M119.58 319.3v3.4M142.04 199.4v2.8M142.04 319.3v3.4M164.50 199.4v2.8M164.50 319.3v3.4M186.96 199.4v2.8M186.96 319.3v3.4M209.42 199.4v2.8M209.42 319.3v3.4M38.2 319.30h3M38.2 302.17h3M221 302.17h-2.6M38.2 285.04h3M221 285.04h-2.6M38.2 267.91h3M221 267.91h-2.6M38.2 250.79h3M221 250.79h-2.6M38.2 233.66h3M221 233.66h-2.6M38.2 216.53h3M221 216.53h-2.6M38.2 199.40h3M221 199.40h-2.6" stroke="#1a1a1a" stroke-width="1.1" fill="none"/>
<text transform="translate(36.30 322.55) scale(0.905 1)" font-size="9.5" font-weight="bold" text-anchor="end" font-family="Liberation Sans, Arial, sans-serif" fill="#1a1a1a" stroke="#1a1a1a" stroke-width="0.3">0</text>
<text transform="translate(36.30 305.42) scale(0.905 1)" font-size="9.5" font-weight="bold" text-anchor="end" font-family="Liberation Sans, Arial, sans-serif" fill="#1a1a1a" stroke="#1a1a1a" stroke-width="0.3">20</text>
<text transform="translate(36.30 288.29) scale(0.905 1)" font-size="9.5" font-weight="bold" text-anchor="end" font-family="Liberation Sans, Arial, sans-serif" fill="#1a1a1a" stroke="#1a1a1a" stroke-width="0.3">40</text>
<text transform="translate(36.30 271.16) scale(0.905 1)" font-size="9.5" font-weight="bold" text-anchor="end" font-family="Liberation Sans, Arial, sans-serif" fill="#1a1a1a" stroke="#1a1a1a" stroke-width="0.3">60</text>
<text transform="translate(36.30 254.04) scale(0.905 1)" font-size="9.5" font-weight="bold" text-anchor="end" font-family="Liberation Sans, Arial, sans-serif" fill="#1a1a1a" stroke="#1a1a1a" stroke-width="0.3">80</text>
<text transform="translate(36.30 236.91) scale(0.905 1)" font-size="9.5" font-weight="bold" text-anchor="end" font-family="Liberation Sans, Arial, sans-serif" fill="#1a1a1a" stroke="#1a1a1a" stroke-width="0.3">100</text>
<text transform="translate(36.30 219.78) scale(0.905 1)" font-size="9.5" font-weight="bold" text-anchor="end" font-family="Liberation Sans, Arial, sans-serif" fill="#1a1a1a" stroke="#1a1a1a" stroke-width="0.3">120</text>
<text transform="translate(36.30 202.65) scale(0.905 1)" font-size="9.5" font-weight="bold" text-anchor="end" font-family="Liberation Sans, Arial, sans-serif" fill="#1a1a1a" stroke="#1a1a1a" stroke-width="0.3">140</text>
<text transform="translate(53.80 327.30) rotate(-45) scale(0.92 1)" font-size="7.6" font-weight="bold" text-anchor="end" font-family="Liberation Sans, Arial, sans-serif" fill="#1a1a1a" stroke="#1a1a1a" stroke-width="0.12">Control</text>
<text transform="translate(76.66 328.30) rotate(-45) scale(0.92 1)" font-size="7.8" font-weight="bold" text-anchor="end" font-family="Liberation Sans, Arial, sans-serif" fill="#1a1a1a" stroke="#1a1a1a" stroke-width="0.12">1<tspan font-size="6.60" font-weight="normal" stroke="none" dx="0.7" dy="1.2">µ</tspan><tspan dx="0.7" dy="-1.2">L</tspan></text>
<text transform="translate(99.12 328.30) rotate(-45) scale(0.92 1)" font-size="7.8" font-weight="bold" text-anchor="end" font-family="Liberation Sans, Arial, sans-serif" fill="#1a1a1a" stroke="#1a1a1a" stroke-width="0.12">2<tspan font-size="6.60" font-weight="normal" stroke="none" dx="0.7" dy="1.2">µ</tspan><tspan dx="0.7" dy="-1.2">L</tspan></text>
<text transform="translate(121.58 328.30) rotate(-45) scale(0.92 1)" font-size="7.8" font-weight="bold" text-anchor="end" font-family="Liberation Sans, Arial, sans-serif" fill="#1a1a1a" stroke="#1a1a1a" stroke-width="0.12">4<tspan font-size="6.60" font-weight="normal" stroke="none" dx="0.7" dy="1.2">µ</tspan><tspan dx="0.7" dy="-1.2">L</tspan></text>
<text transform="translate(144.04 328.30) rotate(-45) scale(0.92 1)" font-size="7.8" font-weight="bold" text-anchor="end" font-family="Liberation Sans, Arial, sans-serif" fill="#1a1a1a" stroke="#1a1a1a" stroke-width="0.12">8<tspan font-size="6.60" font-weight="normal" stroke="none" dx="0.7" dy="1.2">µ</tspan><tspan dx="0.7" dy="-1.2">L</tspan></text>
<text transform="translate(166.50 328.30) rotate(-45) scale(0.92 1)" font-size="7.8" font-weight="bold" text-anchor="end" font-family="Liberation Sans, Arial, sans-serif" fill="#1a1a1a" stroke="#1a1a1a" stroke-width="0.12">16<tspan font-size="6.60" font-weight="normal" stroke="none" dx="0.7" dy="1.2">µ</tspan><tspan dx="0.7" dy="-1.2">L</tspan></text>
<text transform="translate(188.96 328.30) rotate(-45) scale(0.92 1)" font-size="7.8" font-weight="bold" text-anchor="end" font-family="Liberation Sans, Arial, sans-serif" fill="#1a1a1a" stroke="#1a1a1a" stroke-width="0.12">32<tspan font-size="6.60" font-weight="normal" stroke="none" dx="0.7" dy="1.2">µ</tspan><tspan dx="0.7" dy="-1.2">L</tspan></text>
<text transform="translate(211.42 328.30) rotate(-45) scale(0.92 1)" font-size="7.8" font-weight="bold" text-anchor="end" font-family="Liberation Sans, Arial, sans-serif" fill="#1a1a1a" stroke="#1a1a1a" stroke-width="0.12">64<tspan font-size="6.60" font-weight="normal" stroke="none" dx="0.7" dy="1.2">µ</tspan><tspan dx="0.7" dy="-1.2">L</tspan></text>
<text transform="translate(128.90 356.30) scale(0.9 1)" font-size="10.9" text-anchor="middle" font-family="Liberation Sans, Arial, sans-serif" fill="#222" stroke="#222" stroke-width="0.25">Citronellal</text>
<text transform="translate(17.00 258.15) rotate(-90)" font-size="10" text-anchor="middle" font-family="Liberation Sans, Arial, sans-serif" fill="#222" stroke="#222" stroke-width="0.25"><tspan font-style="italic">S. zeamais</tspan> mortality (%)</text>
<text x="47.40" y="220.50" font-size="15.6" font-weight="bold" font-family="Liberation Sans, Arial, sans-serif" fill="#1a1a1a" stroke="#1a1a1a" stroke-width="0.5">C</text>
</g>
<g>
<path d="M368.12 314.77V308.09M364.42 308.09H371.82" stroke="#444" stroke-width="0.62" fill="none"/>
<svg x="360.52" y="314.77" width="15.20" height="4.63" overflow="hidden"><rect width="15.20" height="4.63" fill="#fff"/><path d="M0 3.50H15.20" stroke="#444" stroke-width="0.7" fill="none"/></svg>
<rect x="360.52" y="314.77" width="15.2" height="4.63" fill="none" stroke="#222" stroke-width="0.72"/>
<path d="M390.58 314.77V310.57M386.88 310.57H394.28" stroke="#444" stroke-width="0.62" fill="none"/>
<svg x="382.98" y="314.77" width="15.20" height="4.63" overflow="hidden"><rect width="15.20" height="4.63" fill="#fff"/><path d="M3.04 0V4.63M6.08 0V4.63M9.12 0V4.63M12.16 0V4.63" stroke="#444" stroke-width="0.7" fill="none"/></svg>
<rect x="382.98" y="314.77" width="15.2" height="4.63" fill="none" stroke="#222" stroke-width="0.72"/>
<path d="M413.04 296.94V283.23M409.34 283.23H416.74" stroke="#444" stroke-width="0.62" fill="none"/>
<svg x="405.44" y="296.94" width="15.20" height="22.46" overflow="hidden"><rect width="15.20" height="22.46" fill="#fff"/><path d="M-28.02 30.87L25.54 -32.95M-26.78 31.91L26.78 -31.91M-25.54 32.95L28.02 -30.87M-24.29 33.99L29.26 -29.83M-23.05 35.04L30.50 -28.79M-21.81 36.08L31.74 -27.75M-20.57 37.12L32.98 -26.70M-19.33 38.16L34.22 -25.66M-18.09 39.20L35.46 -24.62M-16.85 40.24L36.70 -23.58M-15.61 41.28L37.95 -22.54M-14.37 42.32L39.19 -21.50M-13.13 43.37L40.43 -20.46M-11.88 44.41L41.67 -19.42M-10.64 45.45L42.91 -18.37M-9.40 46.49L44.15 -17.33M-8.16 47.53L45.39 -16.29M-6.92 48.57L46.63 -15.25M-5.68 49.61L47.87 -14.21" stroke="#111" stroke-width="0.6" fill="none"/></svg>
<rect x="405.44" y="296.94" width="15.2" height="22.46" fill="none" stroke="#222" stroke-width="0.72"/>
<text x="413.04" y="283.04" font-size="9.6" font-weight="bold" text-anchor="middle" font-family="Liberation Sans, Arial, sans-serif" fill="#222" stroke="#222" stroke-width="0.4">*</text>
<path d="M435.50 282.03V261.29M431.80 261.29H439.20" stroke="#444" stroke-width="0.62" fill="none"/>
<svg x="427.90" y="282.03" width="15.20" height="37.37" overflow="hidden"><rect width="15.20" height="37.37" fill="#fff"/><path d="M-25.19 -52.71L47.53 33.96M-26.44 -51.67L46.29 35.01M-27.68 -50.63L45.05 36.05M-28.92 -49.58L43.81 37.09M-30.16 -48.54L42.57 38.13M-31.40 -47.50L41.33 39.17M-32.64 -46.46L40.09 40.21M-33.88 -45.42L38.85 41.25M-35.12 -44.38L37.60 42.29M-36.36 -43.34L36.36 43.34M-37.60 -42.29L35.12 44.38M-38.85 -41.25L33.88 45.42M-40.09 -40.21L32.64 46.46M-41.33 -39.17L31.40 47.50M-42.57 -38.13L30.16 48.54M-43.81 -37.09L28.92 49.58M-45.05 -36.05L27.68 50.63M-46.29 -35.01L26.44 51.67M-47.53 -33.96L25.19 52.71M-48.77 -32.92L23.95 53.75M-50.01 -31.88L22.71 54.79M-51.26 -30.84L21.47 55.83M-52.50 -29.80L20.23 56.87M-53.74 -28.76L18.99 57.91M-54.98 -27.72L17.75 58.96" stroke="#111" stroke-width="0.6" fill="none"/></svg>
<rect x="427.90" y="282.03" width="15.2" height="37.37" fill="none" stroke="#222" stroke-width="0.72"/>
<text x="435.50" y="259.90" font-size="9.6" font-weight="bold" text-anchor="middle" font-family="Liberation Sans, Arial, sans-serif" fill="#222" stroke="#222" stroke-width="0.4">*</text>
<path d="M457.96 264.97V256.23M454.26 256.23H461.66" stroke="#444" stroke-width="0.62" fill="none"/>
<svg x="450.36" y="264.97" width="15.20" height="54.43" overflow="hidden"><rect width="15.20" height="54.43" fill="#fff"/><path d="M3.04 0V54.43M6.08 0V54.43M9.12 0V54.43M12.16 0V54.43M0 3.04H15.20M0 6.08H15.20M0 9.12H15.20M0 12.16H15.20M0 15.20H15.20M0 18.24H15.20M0 21.28H15.20M0 24.32H15.20M0 27.36H15.20M0 30.40H15.20M0 33.44H15.20M0 36.48H15.20M0 39.52H15.20M0 42.56H15.20M0 45.60H15.20M0 48.64H15.20M0 51.68H15.20M0 54.72H15.20" stroke="#222" stroke-width="0.68" fill="none"/></svg>
<rect x="450.36" y="264.97" width="15.2" height="54.43" fill="none" stroke="#222" stroke-width="0.72"/>
<text x="457.96" y="252.24" font-size="9.6" font-weight="bold" text-anchor="middle" font-family="Liberation Sans, Arial, sans-serif" fill="#222" stroke="#222" stroke-width="0.4">*</text>
<path d="M480.42 236.34V231.20M476.72 231.20H484.12" stroke="#444" stroke-width="0.62" fill="none"/>
<svg x="472.82" y="236.34" width="15.20" height="83.06" overflow="hidden"><rect width="15.20" height="83.06" fill="#fff"/><path d="M-67.49 76.86L63.97 -79.81M-65.73 78.33L65.73 -78.33M-63.97 79.81L67.49 -76.86M-62.21 81.29L69.25 -75.38M-60.44 82.77L71.02 -73.90M-58.68 84.25L72.78 -72.42M-56.92 85.73L74.54 -70.94M-55.16 87.20L76.30 -69.46M-53.40 88.68L78.06 -67.98M-51.63 90.16L79.82 -66.51M-49.87 91.64L81.59 -65.03M-48.11 93.12L83.35 -63.55M-46.35 94.60L85.11 -62.07M-44.59 96.07L86.87 -60.59M-42.82 97.55L88.63 -59.11M-41.06 99.03L90.40 -57.64M-39.30 100.51L92.16 -56.16M-37.54 101.99L93.92 -54.68M-35.78 103.47L95.68 -53.20M-34.02 104.94L97.44 -51.72M-32.25 106.42L99.21 -50.24M-30.49 107.90L100.97 -48.77M-28.73 109.38L102.73 -47.29M-26.97 110.86L104.49 -45.81M-25.21 112.34L106.25 -44.33M-23.44 113.82L108.02 -42.85M-21.68 115.29L109.78 -41.37M-19.92 116.77L111.54 -39.89M-18.16 118.25L113.30 -38.42M-16.40 119.73L115.06 -36.94M-14.63 121.21L116.82 -35.46" stroke="#222" stroke-width="0.85" fill="none"/><path d="M-53.78 -88.36L77.68 68.31M-55.77 -86.69L75.69 69.98M-57.76 -85.02L73.70 71.65M-59.75 -83.35L71.70 73.32M-61.75 -81.68L69.71 74.99M-63.74 -80.00L67.72 76.66M-65.73 -78.33L65.73 78.33M-67.72 -76.66L63.74 80.00M-69.71 -74.99L61.75 81.68M-71.70 -73.32L59.75 83.35M-73.70 -71.65L57.76 85.02M-75.69 -69.98L55.77 86.69M-77.68 -68.31L53.78 88.36M-79.67 -66.63L51.79 90.03M-81.66 -64.96L49.80 91.70M-83.66 -63.29L47.80 93.37M-85.65 -61.62L45.81 95.05M-87.64 -59.95L43.82 96.72M-89.63 -58.28L41.83 98.39M-91.62 -56.61L39.84 100.06M-93.61 -54.94L37.85 101.73M-95.61 -53.26L35.85 103.40M-97.60 -51.59L33.86 105.07M-99.59 -49.92L31.87 106.74M-101.58 -48.25L29.88 108.42M-103.57 -46.58L27.89 110.09M-105.56 -44.91L25.90 111.76M-107.56 -43.24L23.90 113.43" stroke="#222" stroke-width="0.6" fill="none"/></svg>
<rect x="472.82" y="236.34" width="15.2" height="83.06" fill="none" stroke="#222" stroke-width="0.72"/>
<text x="480.42" y="230.22" font-size="9.6" font-weight="bold" text-anchor="middle" font-family="Liberation Sans, Arial, sans-serif" fill="#222" stroke="#222" stroke-width="0.4">*</text>
<rect x="312.2" y="199.4" width="179.40" height="120.00" fill="none" stroke="#1a1a1a" stroke-width="1.15"/>
<path d="M323.20 199.4v2.8M323.20 319.4v3.4M345.66 199.4v2.8M345.66 319.4v3.4M368.12 199.4v2.8M368.12 319.4v3.4M390.58 199.4v2.8M390.58 319.4v3.4M413.04 199.4v2.8M413.04 319.4v3.4M435.50 199.4v2.8M435.50 319.4v3.4M457.96 199.4v2.8M457.96 319.4v3.4M480.42 199.4v2.8M480.42 319.4v3.4M309.2 319.40h3M309.2 302.26h3M491.6 302.26h-2.6M309.2 285.11h3M491.6 285.11h-2.6M309.2 267.97h3M491.6 267.97h-2.6M309.2 250.83h3M491.6 250.83h-2.6M309.2 233.69h3M491.6 233.69h-2.6M309.2 216.54h3M491.6 216.54h-2.6M309.2 199.40h3M491.6 199.40h-2.6" stroke="#1a1a1a" stroke-width="1.1" fill="none"/>
<text transform="translate(307.30 322.65) scale(0.905 1)" font-size="9.5" font-weight="bold" text-anchor="end" font-family="Liberation Sans, Arial, sans-serif" fill="#1a1a1a" stroke="#1a1a1a" stroke-width="0.3">0</text>
<text transform="translate(307.30 305.51) scale(0.905 1)" font-size="9.5" font-weight="bold" text-anchor="end" font-family="Liberation Sans, Arial, sans-serif" fill="#1a1a1a" stroke="#1a1a1a" stroke-width="0.3">20</text>
<text transform="translate(307.30 288.36) scale(0.905 1)" font-size="9.5" font-weight="bold" text-anchor="end" font-family="Liberation Sans, Arial, sans-serif" fill="#1a1a1a" stroke="#1a1a1a" stroke-width="0.3">40</text>
<text transform="translate(307.30 271.22) scale(0.905 1)" font-size="9.5" font-weight="bold" text-anchor="end" font-family="Liberation Sans, Arial, sans-serif" fill="#1a1a1a" stroke="#1a1a1a" stroke-width="0.3">60</text>
<text transform="translate(307.30 254.08) scale(0.905 1)" font-size="9.5" font-weight="bold" text-anchor="end" font-family="Liberation Sans, Arial, sans-serif" fill="#1a1a1a" stroke="#1a1a1a" stroke-width="0.3">80</text>
<text transform="translate(307.30 236.94) scale(0.905 1)" font-size="9.5" font-weight="bold" text-anchor="end" font-family="Liberation Sans, Arial, sans-serif" fill="#1a1a1a" stroke="#1a1a1a" stroke-width="0.3">100</text>
<text transform="translate(307.30 219.79) scale(0.905 1)" font-size="9.5" font-weight="bold" text-anchor="end" font-family="Liberation Sans, Arial, sans-serif" fill="#1a1a1a" stroke="#1a1a1a" stroke-width="0.3">120</text>
<text transform="translate(307.30 202.65) scale(0.905 1)" font-size="9.5" font-weight="bold" text-anchor="end" font-family="Liberation Sans, Arial, sans-serif" fill="#1a1a1a" stroke="#1a1a1a" stroke-width="0.3">140</text>
<text transform="translate(324.80 327.40) rotate(-45) scale(0.92 1)" font-size="7.6" font-weight="bold" text-anchor="end" font-family="Liberation Sans, Arial, sans-serif" fill="#1a1a1a" stroke="#1a1a1a" stroke-width="0.12">Control</text>
<text transform="translate(347.66 328.40) rotate(-45) scale(0.92 1)" font-size="7.8" font-weight="bold" text-anchor="end" font-family="Liberation Sans, Arial, sans-serif" fill="#1a1a1a" stroke="#1a1a1a" stroke-width="0.12">1<tspan font-size="6.60" font-weight="normal" stroke="none" dx="0.7" dy="1.2">µ</tspan><tspan dx="0.7" dy="-1.2">L</tspan></text>
<text transform="translate(370.12 328.40) rotate(-45) scale(0.92 1)" font-size="7.8" font-weight="bold" text-anchor="end" font-family="Liberation Sans, Arial, sans-serif" fill="#1a1a1a" stroke="#1a1a1a" stroke-width="0.12">2<tspan font-size="6.60" font-weight="normal" stroke="none" dx="0.7" dy="1.2">µ</tspan><tspan dx="0.7" dy="-1.2">L</tspan></text>
<text transform="translate(392.58 328.40) rotate(-45) scale(0.92 1)" font-size="7.8" font-weight="bold" text-anchor="end" font-family="Liberation Sans, Arial, sans-serif" fill="#1a1a1a" stroke="#1a1a1a" stroke-width="0.12">4<tspan font-size="6.60" font-weight="normal" stroke="none" dx="0.7" dy="1.2">µ</tspan><tspan dx="0.7" dy="-1.2">L</tspan></text>
<text transform="translate(415.04 328.40) rotate(-45) scale(0.92 1)" font-size="7.8" font-weight="bold" text-anchor="end" font-family="Liberation Sans, Arial, sans-serif" fill="#1a1a1a" stroke="#1a1a1a" stroke-width="0.12">8<tspan font-size="6.60" font-weight="normal" stroke="none" dx="0.7" dy="1.2">µ</tspan><tspan dx="0.7" dy="-1.2">L</tspan></text>
<text transform="translate(437.50 328.40) rotate(-45) scale(0.92 1)" font-size="7.8" font-weight="bold" text-anchor="end" font-family="Liberation Sans, Arial, sans-serif" fill="#1a1a1a" stroke="#1a1a1a" stroke-width="0.12">16<tspan font-size="6.60" font-weight="normal" stroke="none" dx="0.7" dy="1.2">µ</tspan><tspan dx="0.7" dy="-1.2">L</tspan></text>
<text transform="translate(459.96 328.40) rotate(-45) scale(0.92 1)" font-size="7.8" font-weight="bold" text-anchor="end" font-family="Liberation Sans, Arial, sans-serif" fill="#1a1a1a" stroke="#1a1a1a" stroke-width="0.12">32<tspan font-size="6.60" font-weight="normal" stroke="none" dx="0.7" dy="1.2">µ</tspan><tspan dx="0.7" dy="-1.2">L</tspan></text>
<text transform="translate(482.42 328.40) rotate(-45) scale(0.92 1)" font-size="7.8" font-weight="bold" text-anchor="end" font-family="Liberation Sans, Arial, sans-serif" fill="#1a1a1a" stroke="#1a1a1a" stroke-width="0.12">64<tspan font-size="6.60" font-weight="normal" stroke="none" dx="0.7" dy="1.2">µ</tspan><tspan dx="0.7" dy="-1.2">L</tspan></text>
<text transform="translate(399.10 356.30) scale(0.9 1)" font-size="10.9" text-anchor="middle" font-family="Liberation Sans, Arial, sans-serif" fill="#222" stroke="#222" stroke-width="0.25">Citronellol</text>
<text transform="translate(289.20 259.90) rotate(-90)" font-size="10" text-anchor="middle" font-family="Liberation Sans, Arial, sans-serif" fill="#222" stroke="#222" stroke-width="0.25"><tspan font-style="italic">S. zeamais</tspan> mortality (%)</text>
<text x="318.40" y="220.50" font-size="15.6" font-weight="bold" font-family="Liberation Sans, Arial, sans-serif" fill="#1a1a1a" stroke="#1a1a1a" stroke-width="0.5">D</text>
</g>
<g>
<path d="M211.06 492.41V488.41M207.36 488.41H214.76" stroke="#444" stroke-width="0.62" fill="none"/>
<svg x="203.46" y="492.41" width="15.20" height="4.49" overflow="hidden"><rect width="15.20" height="4.49" fill="#fff"/><path d="M0.00 1.95h2.53v2.53h-2.53zM5.07 1.95h2.53v2.53h-2.53zM10.13 1.95h2.53v2.53h-2.53zM2.53 -0.58h2.53v2.53h-2.53zM7.60 -0.58h2.53v2.53h-2.53zM12.67 -0.58h2.53v2.53h-2.53zM0.00 -3.11h2.53v2.53h-2.53zM5.07 -3.11h2.53v2.53h-2.53zM10.13 -3.11h2.53v2.53h-2.53z" fill="#111"/></svg>
<rect x="203.46" y="492.41" width="15.2" height="4.49" fill="none" stroke="#222" stroke-width="0.72"/>
<path d="M233.52 491.45V484.64M229.82 484.64H237.22" stroke="#444" stroke-width="0.62" fill="none"/>
<svg x="225.92" y="491.45" width="15.20" height="5.45" overflow="hidden"><rect width="15.20" height="5.45" fill="#fff"/><rect width="15.20" height="5.45" fill="#111"/><path d="M0 3.50H15.20" stroke="#fff" stroke-width="0.8" fill="none"/></svg>
<rect x="225.92" y="491.45" width="15.2" height="5.45" fill="none" stroke="#222" stroke-width="0.72"/>
<path d="M255.98 473.50V450.90M252.28 450.90H259.68" stroke="#444" stroke-width="0.62" fill="none"/>
<svg x="248.38" y="473.50" width="15.20" height="23.40" overflow="hidden"><rect width="15.20" height="23.40" fill="#fff"/><rect width="15.20" height="23.40" fill="#111"/><path d="M3.04 0V23.40M6.08 0V23.40M9.12 0V23.40M12.16 0V23.40" stroke="#fff" stroke-width="0.8" fill="none"/></svg>
<rect x="248.38" y="473.50" width="15.2" height="23.40" fill="none" stroke="#222" stroke-width="0.72"/>
<text x="255.98" y="449.46" font-size="6.2" font-weight="bold" text-anchor="middle" font-family="Liberation Sans, Arial, sans-serif" fill="#222" stroke="#222" stroke-width="0.4">*</text>
<path d="M278.44 463.89V438.24M274.74 438.24H282.14" stroke="#444" stroke-width="0.62" fill="none"/>
<svg x="270.84" y="463.89" width="15.20" height="33.01" overflow="hidden"><rect width="15.20" height="33.01" fill="#fff"/><path d="M-34.80 38.96L32.32 -41.04M-33.56 40.00L33.56 -40.00M-32.32 41.04L34.80 -38.96M-31.08 42.08L36.05 -37.92M-29.84 43.12L37.29 -36.88M-28.60 44.16L38.53 -35.83M-27.36 45.21L39.77 -34.79M-26.12 46.25L41.01 -33.75M-24.88 47.29L42.25 -32.71M-23.64 48.33L43.49 -31.67M-22.39 49.37L44.73 -30.63M-21.15 50.41L45.97 -29.59M-19.91 51.45L47.21 -28.54M-18.67 52.49L48.46 -27.50M-17.43 53.54L49.70 -26.46M-16.19 54.58L50.94 -25.42M-14.95 55.62L52.18 -24.38M-13.71 56.66L53.42 -23.34M-12.47 57.70L54.66 -22.30M-11.23 58.74L55.90 -21.26M-9.98 59.78L57.14 -20.21M-8.74 60.83L58.38 -19.17M-7.50 61.87L59.62 -18.13" stroke="#111" stroke-width="1.2" fill="none"/></svg>
<rect x="270.84" y="463.89" width="15.2" height="33.01" fill="none" stroke="#222" stroke-width="0.72"/>
<text x="278.44" y="436.29" font-size="6.2" font-weight="bold" text-anchor="middle" font-family="Liberation Sans, Arial, sans-serif" fill="#222" stroke="#222" stroke-width="0.4">*</text>
<path d="M300.90 433.27V418.61M297.20 418.61H304.60" stroke="#444" stroke-width="0.62" fill="none"/>
<svg x="293.30" y="433.27" width="15.20" height="63.63" overflow="hidden"><rect width="15.20" height="63.63" fill="#fff"/><path d="M-42.07 -72.82L64.41 54.08M-43.31 -71.78L63.17 55.12M-44.55 -70.74L61.93 56.16M-45.79 -69.70L60.69 57.20M-47.03 -68.65L59.44 58.24M-48.28 -67.61L58.20 59.28M-49.52 -66.57L56.96 60.32M-50.76 -65.53L55.72 61.37M-52.00 -64.49L54.48 62.41M-53.24 -63.45L53.24 63.45M-54.48 -62.41L52.00 64.49M-55.72 -61.37L50.76 65.53M-56.96 -60.32L49.52 66.57M-58.20 -59.28L48.28 67.61M-59.44 -58.24L47.03 68.65M-60.69 -57.20L45.79 69.70M-61.93 -56.16L44.55 70.74M-63.17 -55.12L43.31 71.78M-64.41 -54.08L42.07 72.82M-65.65 -53.04L40.83 73.86M-66.89 -51.99L39.59 74.90M-68.13 -50.95L38.35 75.94M-69.37 -49.91L37.11 76.99M-70.61 -48.87L35.87 78.03M-71.85 -47.83L34.62 79.07M-73.10 -46.79L33.38 80.11M-74.34 -45.75L32.14 81.15M-75.58 -44.70L30.90 82.19M-76.82 -43.66L29.66 83.23M-78.06 -42.62L28.42 84.27M-79.30 -41.58L27.18 85.32M-80.54 -40.54L25.94 86.36M-81.78 -39.50L24.70 87.40M-83.02 -38.46L23.46 88.44M-84.26 -37.42L22.21 89.48M-85.51 -36.37L20.97 90.52" stroke="#111" stroke-width="1.2" fill="none"/></svg>
<rect x="293.30" y="433.27" width="15.2" height="63.63" fill="none" stroke="#222" stroke-width="0.72"/>
<text x="300.90" y="416.66" font-size="6.2" font-weight="bold" text-anchor="middle" font-family="Liberation Sans, Arial, sans-serif" fill="#222" stroke="#222" stroke-width="0.4">*</text>
<path d="M323.36 421.57V416.61M319.66 416.61H327.06" stroke="#444" stroke-width="0.62" fill="none"/>
<svg x="315.76" y="421.57" width="15.20" height="75.33" overflow="hidden"><rect width="15.20" height="75.33" fill="#fff"/><rect width="15.20" height="75.33" fill="#111"/><path d="M3.04 0V75.33M6.08 0V75.33M9.12 0V75.33M12.16 0V75.33M0 3.04H15.20M0 6.08H15.20M0 9.12H15.20M0 12.16H15.20M0 15.20H15.20M0 18.24H15.20M0 21.28H15.20M0 24.32H15.20M0 27.36H15.20M0 30.40H15.20M0 33.44H15.20M0 36.48H15.20M0 39.52H15.20M0 42.56H15.20M0 45.60H15.20M0 48.64H15.20M0 51.68H15.20M0 54.72H15.20M0 57.76H15.20M0 60.80H15.20M0 63.84H15.20M0 66.88H15.20M0 69.92H15.20M0 72.96H15.20M0 76.00H15.20" stroke="#fff" stroke-width="0.8" fill="none"/></svg>
<rect x="315.76" y="421.57" width="15.2" height="75.33" fill="none" stroke="#222" stroke-width="0.72"/>
<text x="323.36" y="414.66" font-size="6.2" font-weight="bold" text-anchor="middle" font-family="Liberation Sans, Arial, sans-serif" fill="#222" stroke="#222" stroke-width="0.4">*</text>
<path d="M345.82 417.49V415.48M342.12 415.48H349.52" stroke="#444" stroke-width="0.62" fill="none"/>
<svg x="338.22" y="417.49" width="15.20" height="79.41" overflow="hidden"><rect width="15.20" height="79.41" fill="#fff"/><path d="M-65.07 74.13L61.70 -76.96M-63.39 75.54L63.39 -75.54M-61.70 76.96L65.07 -74.13M-60.02 78.37L66.76 -72.71M-58.33 79.78L68.44 -71.30M-56.65 81.20L70.13 -69.88M-54.96 82.61L71.81 -68.47M-53.27 84.03L73.50 -67.06M-51.59 85.44L75.18 -65.64M-49.90 86.85L76.87 -64.23M-48.22 88.27L78.55 -62.81M-46.53 89.68L80.24 -61.40M-44.85 91.10L81.92 -59.99M-43.16 92.51L83.61 -58.57M-41.48 93.93L85.30 -57.16M-39.79 95.34L86.98 -55.74M-38.11 96.75L88.67 -54.33M-36.42 98.17L90.35 -52.92M-34.74 99.58L92.04 -51.50M-33.05 101.00L93.72 -50.09M-31.37 102.41L95.41 -48.67M-29.68 103.82L97.09 -47.26M-28.00 105.24L98.78 -45.84M-26.31 106.65L100.46 -44.43M-24.62 108.07L102.15 -43.02M-22.94 109.48L103.83 -41.60M-21.25 110.89L105.52 -40.19M-19.57 112.31L107.20 -38.77M-17.88 113.72L108.89 -37.36M-16.20 115.14L110.57 -35.95M-14.51 116.55L112.26 -34.53" stroke="#111" stroke-width="1.3" fill="none"/><path d="M-51.59 -85.44L75.18 65.64M-53.27 -84.03L73.50 67.06M-54.96 -82.61L71.81 68.47M-56.65 -81.20L70.13 69.88M-58.33 -79.78L68.44 71.30M-60.02 -78.37L66.76 72.71M-61.70 -76.96L65.07 74.13M-63.39 -75.54L63.39 75.54M-65.07 -74.13L61.70 76.96M-66.76 -72.71L60.02 78.37M-68.44 -71.30L58.33 79.78M-70.13 -69.88L56.65 81.20M-71.81 -68.47L54.96 82.61M-73.50 -67.06L53.27 84.03M-75.18 -65.64L51.59 85.44M-76.87 -64.23L49.90 86.85M-78.55 -62.81L48.22 88.27M-80.24 -61.40L46.53 89.68M-81.92 -59.99L44.85 91.10M-83.61 -58.57L43.16 92.51M-85.30 -57.16L41.48 93.93M-86.98 -55.74L39.79 95.34M-88.67 -54.33L38.11 96.75M-90.35 -52.92L36.42 98.17M-92.04 -51.50L34.74 99.58M-93.72 -50.09L33.05 101.00M-95.41 -48.67L31.37 102.41M-97.09 -47.26L29.68 103.82M-98.78 -45.84L28.00 105.24M-100.46 -44.43L26.31 106.65M-102.15 -43.02L24.62 108.07M-103.83 -41.60L22.94 109.48" stroke="#111" stroke-width="0.9" fill="none"/></svg>
<rect x="338.22" y="417.49" width="15.2" height="79.41" fill="none" stroke="#222" stroke-width="0.72"/>
<text x="345.82" y="413.14" font-size="6.2" font-weight="bold" text-anchor="middle" font-family="Liberation Sans, Arial, sans-serif" fill="#222" stroke="#222" stroke-width="0.4">*</text>
<rect x="177.6" y="376.7" width="180.00" height="120.20" fill="none" stroke="#1a1a1a" stroke-width="1.15"/>
<path d="M188.60 376.7v2.8M188.60 496.9v3.4M211.06 376.7v2.8M211.06 496.9v3.4M233.52 376.7v2.8M233.52 496.9v3.4M255.98 376.7v2.8M255.98 496.9v3.4M278.44 376.7v2.8M278.44 496.9v3.4M300.90 376.7v2.8M300.90 496.9v3.4M323.36 376.7v2.8M323.36 496.9v3.4M345.82 376.7v2.8M345.82 496.9v3.4M174.6 496.90h3M174.6 480.87h3M357.6 480.87h-2.6M174.6 464.85h3M357.6 464.85h-2.6M174.6 448.82h3M357.6 448.82h-2.6M174.6 432.79h3M357.6 432.79h-2.6M174.6 416.77h3M357.6 416.77h-2.6M174.6 400.74h3M357.6 400.74h-2.6M174.6 384.71h3M357.6 384.71h-2.6" stroke="#1a1a1a" stroke-width="1.1" fill="none"/>
<text transform="translate(172.70 500.15) scale(0.905 1)" font-size="9.5" font-weight="bold" text-anchor="end" font-family="Liberation Sans, Arial, sans-serif" fill="#1a1a1a" stroke="#1a1a1a" stroke-width="0.3">0</text>
<text transform="translate(172.70 484.12) scale(0.905 1)" font-size="9.5" font-weight="bold" text-anchor="end" font-family="Liberation Sans, Arial, sans-serif" fill="#1a1a1a" stroke="#1a1a1a" stroke-width="0.3">20</text>
<text transform="translate(172.70 468.10) scale(0.905 1)" font-size="9.5" font-weight="bold" text-anchor="end" font-family="Liberation Sans, Arial, sans-serif" fill="#1a1a1a" stroke="#1a1a1a" stroke-width="0.3">40</text>
<text transform="translate(172.70 452.07) scale(0.905 1)" font-size="9.5" font-weight="bold" text-anchor="end" font-family="Liberation Sans, Arial, sans-serif" fill="#1a1a1a" stroke="#1a1a1a" stroke-width="0.3">60</text>
<text transform="translate(172.70 436.04) scale(0.905 1)" font-size="9.5" font-weight="bold" text-anchor="end" font-family="Liberation Sans, Arial, sans-serif" fill="#1a1a1a" stroke="#1a1a1a" stroke-width="0.3">80</text>
<text transform="translate(172.70 420.02) scale(0.905 1)" font-size="9.5" font-weight="bold" text-anchor="end" font-family="Liberation Sans, Arial, sans-serif" fill="#1a1a1a" stroke="#1a1a1a" stroke-width="0.3">100</text>
<text transform="translate(172.70 403.99) scale(0.905 1)" font-size="9.5" font-weight="bold" text-anchor="end" font-family="Liberation Sans, Arial, sans-serif" fill="#1a1a1a" stroke="#1a1a1a" stroke-width="0.3">120</text>
<text transform="translate(172.70 387.96) scale(0.905 1)" font-size="9.5" font-weight="bold" text-anchor="end" font-family="Liberation Sans, Arial, sans-serif" fill="#1a1a1a" stroke="#1a1a1a" stroke-width="0.3">140</text>
<text transform="translate(190.20 507.00) rotate(-45) scale(0.92 1)" font-size="9.5" font-weight="bold" text-anchor="end" font-family="Liberation Sans, Arial, sans-serif" fill="#1a1a1a" stroke="#1a1a1a" stroke-width="0.12">Control</text>
<text transform="translate(213.06 508.00) rotate(-45) scale(0.92 1)" font-size="9.75" font-weight="bold" text-anchor="end" font-family="Liberation Sans, Arial, sans-serif" fill="#1a1a1a" stroke="#1a1a1a" stroke-width="0.12">1<tspan font-size="8.25" font-weight="normal" stroke="none" dx="0.7" dy="1.2">µ</tspan><tspan dx="0.7" dy="-1.2">L</tspan></text>
<text transform="translate(235.52 508.00) rotate(-45) scale(0.92 1)" font-size="9.75" font-weight="bold" text-anchor="end" font-family="Liberation Sans, Arial, sans-serif" fill="#1a1a1a" stroke="#1a1a1a" stroke-width="0.12">2<tspan font-size="8.25" font-weight="normal" stroke="none" dx="0.7" dy="1.2">µ</tspan><tspan dx="0.7" dy="-1.2">L</tspan></text>
<text transform="translate(257.98 508.00) rotate(-45) scale(0.92 1)" font-size="9.75" font-weight="bold" text-anchor="end" font-family="Liberation Sans, Arial, sans-serif" fill="#1a1a1a" stroke="#1a1a1a" stroke-width="0.12">4<tspan font-size="8.25" font-weight="normal" stroke="none" dx="0.7" dy="1.2">µ</tspan><tspan dx="0.7" dy="-1.2">L</tspan></text>
<text transform="translate(280.44 508.00) rotate(-45) scale(0.92 1)" font-size="9.75" font-weight="bold" text-anchor="end" font-family="Liberation Sans, Arial, sans-serif" fill="#1a1a1a" stroke="#1a1a1a" stroke-width="0.12">8<tspan font-size="8.25" font-weight="normal" stroke="none" dx="0.7" dy="1.2">µ</tspan><tspan dx="0.7" dy="-1.2">L</tspan></text>
<text transform="translate(302.90 508.00) rotate(-45) scale(0.92 1)" font-size="9.75" font-weight="bold" text-anchor="end" font-family="Liberation Sans, Arial, sans-serif" fill="#1a1a1a" stroke="#1a1a1a" stroke-width="0.12">16<tspan font-size="8.25" font-weight="normal" stroke="none" dx="0.7" dy="1.2">µ</tspan><tspan dx="0.7" dy="-1.2">L</tspan></text>
<text transform="translate(325.36 508.00) rotate(-45) scale(0.92 1)" font-size="9.75" font-weight="bold" text-anchor="end" font-family="Liberation Sans, Arial, sans-serif" fill="#1a1a1a" stroke="#1a1a1a" stroke-width="0.12">32<tspan font-size="8.25" font-weight="normal" stroke="none" dx="0.7" dy="1.2">µ</tspan><tspan dx="0.7" dy="-1.2">L</tspan></text>
<text transform="translate(347.82 508.00) rotate(-45) scale(0.92 1)" font-size="9.75" font-weight="bold" text-anchor="end" font-family="Liberation Sans, Arial, sans-serif" fill="#1a1a1a" stroke="#1a1a1a" stroke-width="0.12">64<tspan font-size="8.25" font-weight="normal" stroke="none" dx="0.7" dy="1.2">µ</tspan><tspan dx="0.7" dy="-1.2">L</tspan></text>
<text transform="translate(267.65 544.20) scale(0.9 1)" font-size="10.9" text-anchor="middle" font-family="Liberation Sans, Arial, sans-serif" fill="#222" stroke="#222" stroke-width="0.25">Eugenol</text>
<text transform="translate(153.40 437.30) rotate(-90)" font-size="10" text-anchor="middle" font-family="Liberation Sans, Arial, sans-serif" fill="#222" stroke="#222" stroke-width="0.25"><tspan font-style="italic">S. zeamais</tspan> mortality (%)</text>
<text x="183.80" y="397.20" font-size="15.6" font-weight="bold" font-family="Liberation Sans, Arial, sans-serif" fill="#1a1a1a" stroke="#1a1a1a" stroke-width="0.5">E</text>
</g>
</svg></body></html>
